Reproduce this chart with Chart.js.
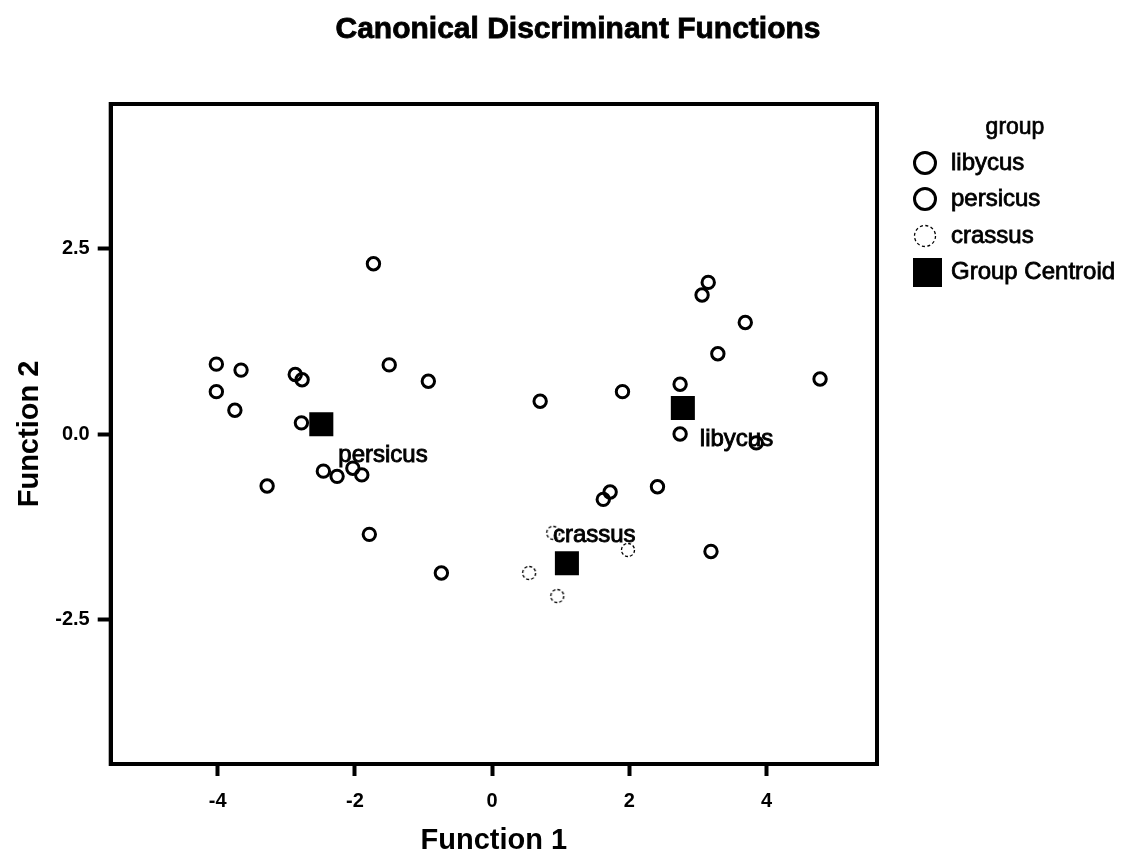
<!DOCTYPE html>
<html>
<head>
<meta charset="utf-8">
<script src="https://cdn.jsdelivr.net/npm/chart.js@4.4.1/dist/chart.umd.min.js"></script>
<style>
html, body { margin: 0; padding: 0; background: #fff; }
</style>
</head>
<body>
<canvas id="cdf" width="1124" height="855"></canvas>
<script>
// group scores (Function 1, Function 2)
const libycusX = [3.15, 3.06, 3.69, 3.29, 2.74, 4.78, 2.74, 3.85, 1.90, 2.41, 1.72, 1.62, 3.19, 0.70];
const libycusY = [2.04, 1.87, 1.50, 1.08, 0.67, 0.74, 0.00, -0.12, 0.57, -0.71, -0.78, -0.88, -1.58, 0.44];

const persicusX = [-4.02, -4.02, -3.66, -3.75, -3.28, -2.87, -2.77, -2.78, -1.73, -1.50, -0.93, -2.46, -2.26, -2.03, -1.90, -1.79, -0.74];
const persicusY = [0.94, 0.57, 0.86, 0.32, -0.70, 0.80, 0.73, 0.15, 2.29, 0.93, 0.71, -0.50, -0.57, -0.46, -0.55, -1.35, -1.87];

const crassusX = [0.89, 1.98, 0.54, 0.95];
const crassusY = [-1.33, -1.56, -1.87, -2.18];

const groupNames = ['libycus', 'persicus', 'crassus'];
const centroidX = [2.78, -2.49, 1.09];
const centroidY = [0.35, 0.13, -1.74];

const xTicks = [-4, -2, 0, 2, 4];
const yTicks = [-2.5, 0, 2.5];

const sans = '"Liberation Sans", Arial, Helvetica, sans-serif';

function toPoints(xs, ys) {
    return xs.map((x, i) => ({ x: x, y: ys[i] }));
}

// SPSS text looks a bit heavier than plain regular, so fill + thin stroke
function heavyText(ctx, txt, x, y, lw) {
    ctx.fillText(txt, x, y);
    ctx.lineWidth = lw;
    ctx.strokeText(txt, x, y);
}

// thin dashed ring used for crassus
function dashedRing(r, lw) {
    const c = document.createElement('canvas');
    const s = Math.ceil(r * 2 + lw * 2 + 2);
    c.width = s; c.height = s;
    const g = c.getContext('2d');
    g.strokeStyle = '#000';
    g.lineWidth = lw;
    g.setLineDash([3, 2]);
    g.beginPath();
    g.arc(s / 2, s / 2, r, 0, Math.PI * 2);
    g.stroke();
    return c;
}
const crassusMark = dashedRing(6.5, 1.3);

const boxPlugin = {
    id: 'box',
    afterDraw(chart) {
        const a = chart.chartArea, ctx = chart.ctx;
        ctx.save();
        ctx.strokeStyle = '#000';
        ctx.lineWidth = 4;
        ctx.strokeRect(a.left, a.top, a.right - a.left, a.bottom - a.top);
        ctx.restore();
    }
};

const titlePlugin = {
    id: 'topTitle',
    afterDraw(chart) {
        const ctx = chart.ctx;
        ctx.save();
        ctx.fillStyle = '#000';
        ctx.strokeStyle = '#000';
        ctx.font = 'bold 30px ' + sans;
        ctx.textAlign = 'center';
        ctx.textBaseline = 'middle';
        heavyText(ctx, 'Canonical Discriminant Functions', 578, 30, 0.8);
        ctx.restore();
    }
};

// group names next to their centroids
const labelOffsets = [[17, 31], [17, 31], [-14, -28]];
const centroidLabels = {
    id: 'centroidLabels',
    afterDatasetsDraw(chart) {
        const ctx = chart.ctx;
        const xs = chart.scales.x, ys = chart.scales.y;
        ctx.save();
        ctx.fillStyle = '#000';
        ctx.strokeStyle = '#000';
        ctx.font = '24px ' + sans;
        ctx.textAlign = 'left';
        ctx.textBaseline = 'middle';
        groupNames.forEach((name, i) => {
            const px = xs.getPixelForValue(centroidX[i]) + labelOffsets[i][0];
            const py = ys.getPixelForValue(centroidY[i]) + labelOffsets[i][1];
            heavyText(ctx, name, px, py, 0.9);
        });
        ctx.restore();
    }
};

const sideLegend = {
    id: 'sideLegend',
    afterDraw(chart) {
        const ctx = chart.ctx;
        ctx.save();
        ctx.fillStyle = '#000';
        ctx.strokeStyle = '#000';
        ctx.textBaseline = 'middle';
        ctx.font = '23px ' + sans;
        ctx.textAlign = 'center';
        heavyText(ctx, 'group', 1015, 128, 0.7);
        ctx.textAlign = 'left';
        ctx.font = '24px ' + sans;
        const rows = [163, 199, 236, 272];
        chart.data.datasets.forEach((ds, i) => {
            const y = rows[i];
            if (ds.label === 'Group Centroid') {
                ctx.fillRect(913, y - 14, 29, 29);
            } else {
                ctx.beginPath();
                ctx.arc(925, y, 10.5, 0, Math.PI * 2);
                if (ds.label === 'crassus') {
                    ctx.lineWidth = 1.3;
                    ctx.setLineDash([3, 2.5]);
                } else {
                    ctx.lineWidth = 3;
                    ctx.setLineDash([]);
                }
                ctx.stroke();
                ctx.setLineDash([]);
            }
            heavyText(ctx, ds.label, 951, y, 0.8);
        });
        ctx.restore();
    }
};

const ctx = document.getElementById('cdf').getContext('2d');
const chart = new Chart(ctx, {
    type: 'scatter',
    data: {
        datasets: [{
            label: 'libycus',
            data: toPoints(libycusX, libycusY),
            pointStyle: 'circle',
            pointRadius: 6.2,
            borderColor: '#000',
            backgroundColor: 'rgba(0,0,0,0)',
            borderWidth: 3,
            order: 2
        }, {
            label: 'persicus',
            data: toPoints(persicusX, persicusY),
            pointStyle: 'circle',
            pointRadius: 6.2,
            borderColor: '#000',
            backgroundColor: 'rgba(0,0,0,0)',
            borderWidth: 3,
            order: 2
        }, {
            label: 'crassus',
            data: toPoints(crassusX, crassusY),
            pointStyle: crassusMark,
            pointRadius: 7,
            borderColor: '#000',
            backgroundColor: 'rgba(0,0,0,0)',
            order: 2
        }, {
            label: 'Group Centroid',
            data: toPoints(centroidX, centroidY),
            pointStyle: 'rect',
            pointRadius: 17,
            borderWidth: 0,
            borderColor: '#000',
            backgroundColor: '#000',
            order: 1
        }]
    },
    options: {
        responsive: false,
        animation: false,
        events: [],
        layout: {
            padding: { left: 0, right: 247, top: 104, bottom: 0 }
        },
        plugins: {
            legend: { display: false },
            title: { display: false },
            tooltip: { enabled: false }
        },
        scales: {
            x: {
                type: 'linear',
                min: -5.56,
                max: 5.61,
                afterBuildTicks: (s) => { s.ticks = xTicks.map(v => ({ value: v })); },
                afterFit: (s) => { s.height = 91; },
                ticks: {
                    color: '#000',
                    font: { family: sans, size: 20, weight: 'bold' },
                    padding: 13,
                    callback: (v) => String(v)
                },
                grid: {
                    drawOnChartArea: false,
                    drawTicks: true,
                    tickLength: 12,
                    tickWidth: 4,
                    tickColor: '#000'
                },
                border: { display: true, color: '#000', width: 4 },
                title: {
                    display: true,
                    text: 'Function 1',
                    color: '#000',
                    font: { family: sans, size: 29, weight: 'bold', lineHeight: 1 },
                    padding: { top: 0, bottom: 0 }
                }
            },
            y: {
                type: 'linear',
                min: -4.44,
                max: 4.44,
                afterBuildTicks: (s) => { s.ticks = yTicks.map(v => ({ value: v })); },
                afterFit: (s) => { s.width = 110.7; },
                ticks: {
                    color: '#000',
                    font: { family: sans, size: 20, weight: 'bold' },
                    padding: 8,
                    callback: (v) => Number(v).toFixed(1)
                },
                grid: {
                    drawOnChartArea: false,
                    drawTicks: true,
                    tickLength: 13,
                    tickWidth: 4,
                    tickColor: '#000'
                },
                border: { display: true, color: '#000', width: 4 },
                title: {
                    display: true,
                    text: 'Function 2',
                    color: '#000',
                    font: { family: sans, size: 29, weight: 'bold', lineHeight: 1 },
                    padding: { top: 15, bottom: 0 }
                }
            }
        }
    },
    plugins: [boxPlugin, titlePlugin, centroidLabels, sideLegend]
});
</script>
</body>
</html>
